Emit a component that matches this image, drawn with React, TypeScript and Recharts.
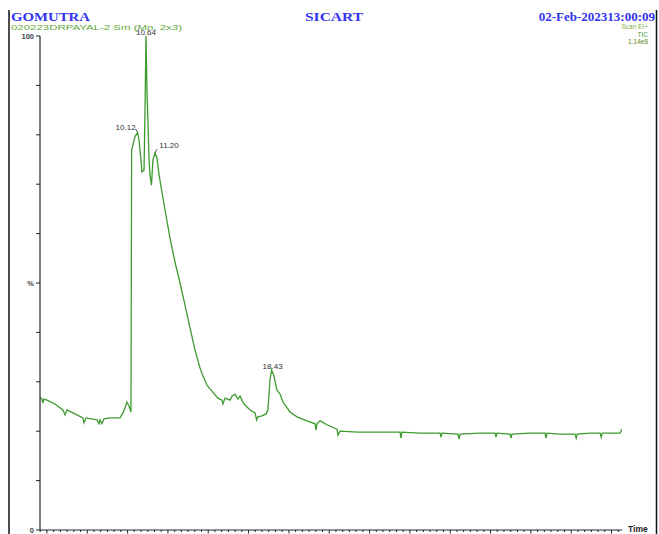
import React from "react";
import { ComposedChart, Line, XAxis, YAxis, ReferenceDot } from "recharts";

// TIC trace, retention time (min) vs relative abundance (%)
const TIMES = [
  4.07, 4.19, 4.25, 4.31, 4.5, 5.0, 5.49, 5.62, 5.74, 6.11, 6.73, 6.8, 6.92, 7.6, 7.73, 7.79, 7.91, 8.04, 8.41, 9.03,
  9.21, 9.34, 9.46, 9.59, 9.71, 9.75, 9.83, 9.96, 10.12, 10.21, 10.33, 10.39, 10.52, 10.58, 10.64, 10.7, 10.76, 10.83,
  10.89, 10.98, 11.07, 11.2, 11.32, 11.45, 11.63, 11.82, 12.13, 12.44, 12.75, 13.06, 13.37, 13.68, 13.99, 14.17, 14.42,
  14.73, 15.1, 15.35, 15.41, 15.54, 15.85, 15.97, 16.16, 16.34, 16.47, 16.65, 16.78, 17.09, 17.4, 17.5, 17.58, 17.83,
  18.08, 18.2, 18.33, 18.43, 18.57, 18.76, 18.95, 19.13, 19.57, 20.0, 20.62, 21.12, 21.18, 21.24, 21.43, 21.86, 22.48,
  22.54, 22.67, 23.78, 25.15, 26.39, 26.45, 26.51, 27.63, 28.87, 28.93, 28.99, 29.98, 30.05, 30.11, 31.35, 32.28, 32.34,
  32.4, 33.21, 33.27, 33.33, 34.45, 35.38, 35.44, 35.5, 36.31, 37.24, 37.31, 37.37, 38.17, 38.79, 38.86, 38.92, 40.03,
  40.15,
];
const TIC_PCT = [
  26.9, 26.5, 25.7, 26.5, 26.3, 25.5, 24.3, 23.3, 24.3, 23.7, 22.7, 21.7, 22.7, 22.3, 21.5, 22.3, 21.5, 22.5, 22.7, 22.7,
  23.7, 24.7, 25.9, 25.1, 23.9, 76.9, 77.9, 79.7, 80.4, 78.9, 74.9, 72.5, 72.9, 85.0, 100, 89.1, 83.0, 74.9,
  71.9, 69.8, 74.9, 76.3, 75.3, 71.9, 68.4, 64.8, 59.1, 54.2, 50.0, 45.5, 40.9, 36.4, 32.8, 31.2, 29.3,
  28.1, 26.7, 26.3, 25.5, 26.7, 26.3, 27.1, 27.5, 26.5, 27.1, 25.9, 25.3, 24.3, 23.7, 22.3, 22.9, 23.1,
  23.5, 24.3, 30.4, 32.4, 31.2, 28.3, 27.5, 25.9, 23.9, 22.9, 22.1, 21.5, 20.2, 21.5, 22.1, 21.3, 20.4,
  19.2, 20.0, 19.8, 19.8, 19.8, 18.6, 19.8, 19.6, 19.6, 18.8, 19.6, 19.4, 18.4, 19.4, 19.6, 19.6, 18.8,
  19.6, 19.4, 18.6, 19.4, 19.6, 19.6, 18.6, 19.6, 19.4, 19.4, 18.6, 19.4, 19.6, 19.6, 18.8, 19.6, 19.6,
  20.4,
];

const PEAK_TIMES = [10.12, 10.64, 11.2, 18.43];
const PEAK_PCT = [80.4, 100, 76.3, 32.4];
const PEAK_LABELS = ["10.12", "10.64", "11.20", "18.43"];

const Y_TICKS = [0, 10, 20, 30, 40, 50, 60, 70, 80, 90, 100];
const Y_LABELS: Record<number, string> = { 0: "0", 50: "%", 100: "100" };
const X_LABELS = [7, 12, 17, 22, 27, 32, 37];
const X_DOMAIN: [number, number] = [4.07, 40.15];
const X_MINOR = 2.5 / 6;
const X_TICKS = Array.from({ length: 88 }, (_, i) => +(4.5 + (i - 1) * X_MINOR).toFixed(4)).filter(
  (t) => t >= X_DOMAIN[0] && t <= X_DOMAIN[1]
);

const data = TIMES.map((t, i) => ({ t, pct: TIC_PCT[i] }));

// label placement around each peak apex (px)
const LABEL_POS: Record<string, { dx: number; dy: number; lead?: [number, number] }> = {
  "10.12": { dx: -12, dy: -3, lead: [-2, -4] },
  "10.64": { dx: 0, dy: -1 },
  "11.20": { dx: 14, dy: -5, lead: [2, -4] },
  "18.43": { dx: 1, dy: -1 },
};

const SANS = "'Liberation Sans', Arial, sans-serif";
const TRACE = "#3d9a2f";

const XTick = (props: any) => {
  const { x, y, payload } = props;
  const v = payload.value;
  const major = Math.abs((v - 4.5) / 2.5 - Math.round((v - 4.5) / 2.5)) < 0.01;
  const label = X_LABELS.find((l) => Math.abs(l - v) < 0.01);
  return (
    <g>
      <line x1={x} x2={x} y1={y} y2={y + (major ? 3.5 : 2)} stroke="#222" strokeWidth={1} />
      {label !== undefined && (
        <text x={x} y={y + 10} textAnchor="middle" fontSize={8} fontFamily={SANS} fill="#555">
          {label.toFixed(2)}
        </text>
      )}
    </g>
  );
};

const YTick = (props: any) => {
  const { x, y, payload } = props;
  const txt = Y_LABELS[payload.value];
  if (!txt) return null;
  return (
    <text x={x} y={y + 2.5} textAnchor="end" fontSize={7.5} fontFamily={SANS} fontWeight="bold" fill="#444">
      {txt}
    </text>
  );
};

const peakShape = (label: string) => (p: any) => {
  const pos = LABEL_POS[label];
  const { cx, cy } = p;
  return (
    <g>
      {pos.lead && (
        <line x1={cx + pos.lead[0]} y1={cy + pos.lead[1]} x2={cx} y2={cy} stroke="#333" strokeWidth={0.8} />
      )}
      <text x={cx + pos.dx} y={cy + pos.dy} textAnchor="middle" fontSize={8} fontFamily={SANS} fill="#333">
        {label}
      </text>
    </g>
  );
};

export default function App() {
  return (
    <div style={{ position: "absolute", left: 0, top: 0, width: 659, height: 534, overflow: "hidden", background: "#fff" }}>
      <ComposedChart width={659} height={534} data={data} margin={{ top: 36, right: 37, bottom: 0, left: 10 }}>
        <XAxis
          type="number"
          dataKey="t"
          domain={X_DOMAIN}
          allowDataOverflow
          ticks={X_TICKS}
          interval={0}
          tick={XTick}
          tickLine={false}
          tickSize={0}
          tickMargin={0}
          height={4}
          axisLine={{ stroke: "#222", strokeWidth: 1 }}
        />
        <YAxis
          type="number"
          domain={[0, 100]}
          ticks={Y_TICKS}
          interval={0}
          width={30}
          tick={YTick}
          tickSize={4}
          tickMargin={2}
          tickLine={{ stroke: "#222" }}
          axisLine={{ stroke: "#222", strokeWidth: 1.2 }}
        />
        <Line
          type="linear"
          dataKey="pct"
          stroke={TRACE}
          strokeWidth={1.3}
          dot={false}
          isAnimationActive={false}
        />
        {PEAK_TIMES.map((t, i) => (
          <ReferenceDot key={t} x={t} y={PEAK_PCT[i]} r={0} shape={peakShape(PEAK_LABELS[i])} />
        ))}
      </ComposedChart>
      <svg width={659} height={534} style={{ position: "absolute", left: 0, top: 0, pointerEvents: "none" }}>
        <line x1={9} y1={10} x2={9} y2={534} stroke="#111" strokeWidth={1.5} />
        <line x1={656.5} y1={10} x2={656.5} y2={534} stroke="#111" strokeWidth={1.5} />
        <g fontFamily="'Liberation Serif', 'Times New Roman', serif" fontWeight="bold" fontSize={13} fill="#3333f2">
          <text x={11} y={20.5} textLength={79} lengthAdjust="spacingAndGlyphs">GOMUTRA</text>
          <text x={305} y={20.5} textLength={58} lengthAdjust="spacingAndGlyphs">SICART</text>
          <text x={655} y={20.5} textAnchor="end">02-Feb-202313:00:09</text>
        </g>
        <text x={11} y={29.5} fontFamily={SANS} fontSize={7} fill="#5fa83a" textLength={171} lengthAdjust="spacingAndGlyphs">
          020223DRPAYAL-2 Sm (Mn, 2x3)
        </text>
        <g fontFamily={SANS} fontSize={6.5} textAnchor="end">
          <text x={648} y={29} fill="#7fb24a">Scan EI+</text>
          <text x={648} y={36.5} fill="#4aa03a">TIC</text>
          <text x={648} y={43.5} fill="#5a8a20">1.14e8</text>
        </g>
        <text x={628} y={532} fontFamily={SANS} fontSize={8.5} fontWeight="bold" fill="#222">Time</text>
      </svg>
    </div>
  );
}
